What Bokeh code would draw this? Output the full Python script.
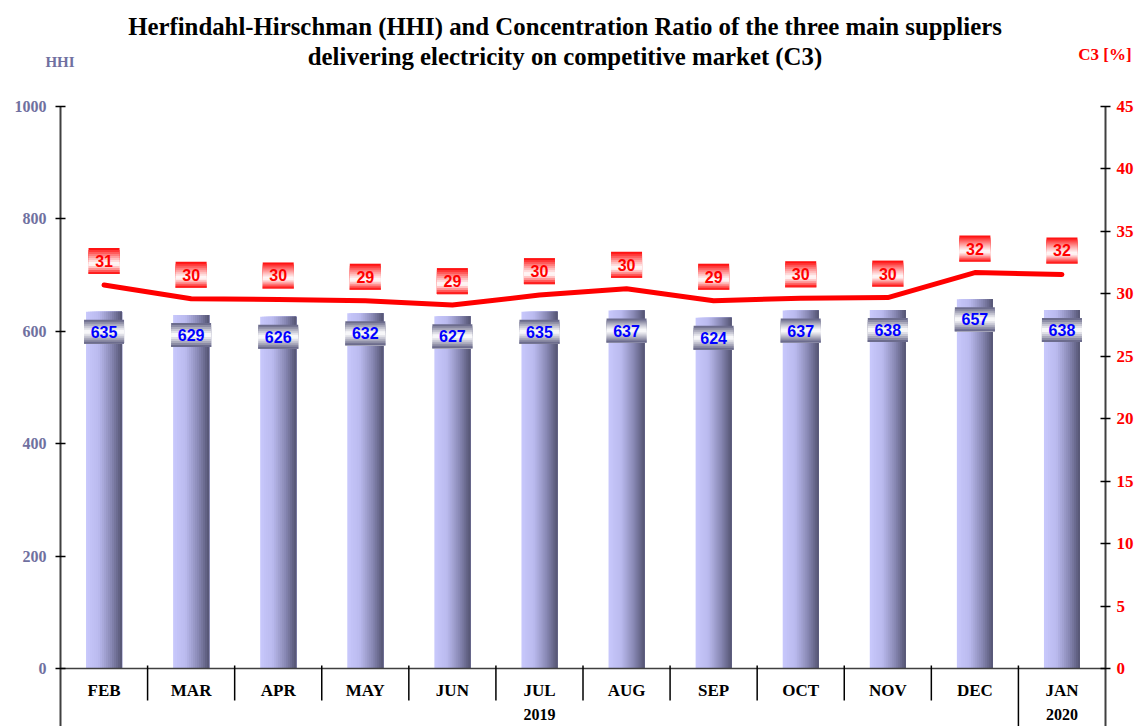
import numpy as np
from bokeh.plotting import figure
from bokeh.layouts import column
from bokeh.models import Range1d, LinearAxis, FixedTicker, ColumnDataSource, Div
from bokeh.transform import dodge
from bokeh.core.properties import value
from bokeh.embed import file_html
from bokeh.resources import INLINE

# ---------------- data ----------------
months = ["FEB", "MAR", "APR", "MAY", "JUN", "JUL", "AUG", "SEP", "OCT", "NOV", "DEC", "JAN"]
month_years = ["2019"] * 11 + ["2020"]
hhi = [635, 629, 626, 632, 627, 635, 637, 624, 637, 638, 657, 638]
c3 = [30.7, 29.6, 29.55, 29.45, 29.1, 29.9, 30.4, 29.45, 29.65, 29.7, 31.7, 31.55]
hhi_ticks = [0, 200, 400, 600, 800, 1000]
c3_ticks = [0, 5, 10, 15, 20, 25, 30, 35, 40, 45]
title1 = "Herfindahl-Hirschman (HHI) and Concentration Ratio of the three main suppliers"
title2 = "delivering electricity on competitive market (C3)"
left_caption = "HHI"
right_caption = "C3 [%]"

# ---------------- layout (pixels) ----------------
W, H = 1139, 726
HEAD = 98                        # height of the heading strip
LEFT, RIGHT = 60, 34             # frame borders of the chart
ZERO_PY, TOP_PY = 668, 106       # page rows of HHI 0 and HHI 1000
PXU = (ZERO_PY - TOP_PY) / 1000  # pixels per HHI unit
HHI_MAX = (ZERO_PY - HEAD) / PXU
HHI_MIN = -(H - ZERO_PY) / PXU
C3_SCALE = 45 / 1000
k = 1 / PXU                      # hhi units per pixel
kc = k * C3_SCALE                # c3 units per pixel
XPX = (W - LEFT - RIGHT) / len(months)


def ydata(py):
    return (ZERO_PY - py) / PXU


SERIF = "Liberation Serif"
SANS = "Liberation Sans"

# ---------------- heading strip (HTML text) ----------------
head_html = f"""
<div style="position:relative;width:{W}px;height:{HEAD}px;overflow:hidden;
            font-family:'{SERIF}',serif;font-weight:bold;margin:0;padding:0;">
  <div style="position:absolute;left:0;top:12px;width:1130px;text-align:center;
              font-size:24.8px;line-height:30px;color:#000000;white-space:nowrap;">
    {title1}<br>{title2}
  </div>
  <div style="position:absolute;left:0;top:53px;width:120px;text-align:center;
              font-size:15px;line-height:18px;color:#7070a0;">{left_caption}</div>
  <div style="position:absolute;left:1065px;top:46px;width:80px;text-align:center;
              font-size:17px;line-height:18px;color:#ff0000;white-space:nowrap;">{right_caption}</div>
</div>
"""
head = Div(text=head_html, width=W, height=HEAD, margin=(0, 0, 0, 0))

# ---------------- chart ----------------
xs = list(range(len(months)))
src = ColumnDataSource(dict(
    x=xs, hhi=hhi, c3=c3, m=months,
    hl=[str(v) for v in hhi], cl=[f"{v:.0f}" for v in c3],
))

p = figure(width=W, height=H - HEAD,
           x_range=Range1d(-0.5, len(months) - 0.5),
           y_range=Range1d(HHI_MIN, HHI_MAX),
           output_backend="svg", toolbar_location=None,
           x_axis_location=None, title=None,
           min_border_top=0, min_border_bottom=0,
           min_border_left=LEFT, min_border_right=RIGHT)
p.extra_y_ranges = {"c3": Range1d(HHI_MIN * C3_SCALE, HHI_MAX * C3_SCALE)}
p.grid.visible = False
p.outline_line_color = None
p.background_fill_color = "white"
p.border_fill_color = "white"


def style_axis(a, color, size):
    a.axis_line_color = "#404040"
    a.axis_line_width = 2
    a.major_tick_in = 5
    a.major_tick_out = 5
    a.major_tick_line_color = "black"
    a.major_tick_line_width = 1.5
    a.minor_tick_line_color = None
    a.major_label_text_font = SERIF
    a.major_label_text_font_style = "bold"
    a.major_label_text_font_size = size
    a.major_label_text_color = color


ax = p.yaxis[0]
ax.ticker = FixedTicker(ticks=hhi_ticks)
ax.bounds = (HHI_MIN, 1000)
style_axis(ax, "#7070a0", "16px")
ax.major_label_standoff = 9

rax = LinearAxis(y_range_name="c3", ticker=FixedTicker(ticks=c3_ticks),
                 bounds=(HHI_MIN * C3_SCALE, 45))
style_axis(rax, "#ff0000", "17px")
rax.major_label_standoff = 6
p.add_layout(rax, "right")


def mix(c1, c2, t):
    return "#%02x%02x%02x" % tuple(int(round(a + (b - a) * t)) for a, b in zip(c1, c2))


def bar_col(t):
    stops = [(0.0, (200, 200, 252)), (0.35, (186, 186, 238)), (0.7, (136, 136, 180)), (1.0, (84, 84, 114))]
    for (t0, c0), (t1, c1) in zip(stops[:-1], stops[1:]):
        if t <= t1:
            return mix(c0, c1, (t - t0) / (t1 - t0))
    return mix(stops[-1][1], stops[-1][1], 0)


# bars with horizontal gradient (each strip reaches the right edge, so no seams)
BW = 36 / XPX
N = 18
w = BW / N
for j in range(N):
    left = -BW / 2 + j * w
    right = BW / 2
    p.vbar(x=dodge("x", (left + right) / 2), top="hhi", bottom=0,
           width=right - left, source=src, fill_color=bar_col((j + 0.5) / N),
           line_color=None)

# bar label boxes (vertical gradient) 40x24 px, centred 20 px below the bar top
BOX_W, BOX_H, BOX_OFF = 40, 24, -20
M = 12
edge = (92, 92, 128)
h = BOX_H / M
for m in range(M):
    t = (m + 0.5) / M
    f = abs(2 * t - 1) ** 1.2
    col = mix((255, 255, 255), edge, f)
    top = BOX_OFF + BOX_H / 2 - m * h
    bot = BOX_OFF - BOX_H / 2
    p.rect(x="x", y=dodge("hhi", (top + bot) / 2 * k), width=BOX_W, height=top - bot,
           width_units="screen", height_units="screen", source=src,
           fill_color=col, line_color=None)
p.text(x="x", y=dodge("hhi", BOX_OFF * k), text="hl", source=src,
       text_align="center", text_baseline="middle",
       text_font=value(SANS), text_font_style="bold", text_font_size="16px",
       text_color="#0000ff")

# C3 line
p.line(x="x", y="c3", source=src, y_range_name="c3", line_color="#ff0000",
       line_width=5, line_cap="round", line_join="round")

# red label boxes 31x26 px, centred 24 px above the point
RB_W, RB_H, RB_OFF = 31, 26, 24
M2 = 13
h2 = RB_H / M2
for m in range(M2):
    t = (m + 0.5) / M2
    if t < 0.62:
        f = (1 - t / 0.62) ** 1.2
    else:
        f = ((t - 0.62) / 0.38) ** 1.2
    col = mix((255, 255, 255), (255, 0, 0), f)
    top = RB_OFF + RB_H / 2 - m * h2
    bot = RB_OFF - RB_H / 2
    p.rect(x="x", y=dodge("c3", (top + bot) / 2 * kc), width=RB_W, height=top - bot,
           width_units="screen", height_units="screen", source=src,
           y_range_name="c3", fill_color=col, line_color=None)
p.text(x="x", y=dodge("c3", RB_OFF * kc), text="cl", source=src, y_range_name="c3",
       text_align="center", text_baseline="middle",
       text_font=value(SANS), text_font_style="bold", text_font_size="16px",
       text_color="#ff0000")

# zero line
p.segment(x0=[-0.5], x1=[len(months) - 0.5], y0=[0], y1=[0],
          line_color="#404040", line_width=1.5)

# category separators
sep_x, sep_y1 = [], []
for i in range(len(months) - 1):
    sep_x.append(i + 0.5)
    sep_y1.append(HHI_MIN if month_years[i] != month_years[i + 1] else ydata(ZERO_PY + 32))
p.segment(x0=sep_x, x1=sep_x, y0=[3 * k] * len(sep_x), y1=sep_y1,
          line_color="black", line_width=1.5)

# month labels
p.text(x="x", y=ydata(690), text="m", source=src, text_align="center",
       text_baseline="middle", text_font=value(SERIF), text_font_style="bold",
       text_font_size="17px", text_color="black")

# year labels
years = []
for y in month_years:
    if y not in years:
        years.append(y)
year_x = [float(np.mean([i for i, yy in enumerate(month_years) if yy == y])) for y in years]
p.text(x=year_x, y=[ydata(714)] * len(years), text=years, text_align="center",
       text_baseline="middle", text_font=value(SERIF), text_font_style="bold",
       text_font_size="16px", text_color="black")

open("out.html", "w").write(file_html(column(head, p, spacing=0), INLINE))
